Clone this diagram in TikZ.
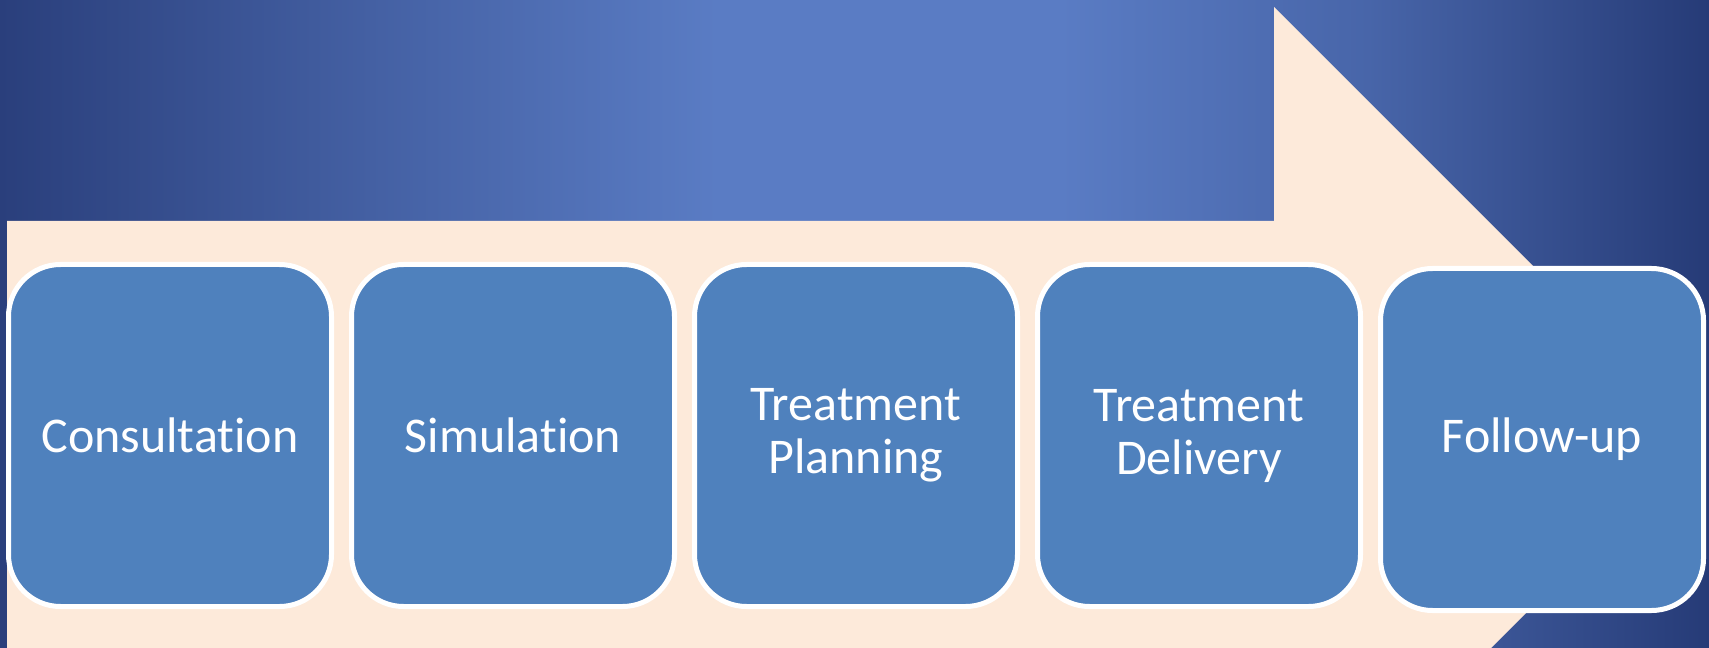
\documentclass[tikz,border=0pt]{standalone}
\usepackage{fontspec}
\setmainfont{Carlito}[Ligatures=NoCommon]
\usetikzlibrary{positioning}

\definecolor{navyleft}{HTML}{2A3F7C}
\definecolor{skyband}{HTML}{5A7CC4}
\definecolor{navyright}{HTML}{263B77}
\definecolor{peach}{HTML}{FDEADA}
\definecolor{boxblue}{HTML}{4F81BD}

% the path is fitted into the 25bp..75bp part of the shading
\pgfdeclarehorizontalshading{bgflow}{100bp}{color(0bp)=(navyleft); color(25bp)=(navyleft); color(36bp)=(navyleft!45!skyband); color(46bp)=(skyband); color(56bp)=(skyband); color(65bp)=(skyband!65!navyright); color(75bp)=(navyright); color(100bp)=(navyright)}

\tikzset{every picture/.style={line width=0.75pt}}
\tikzset{phase/.style={draw=white, line width=3.75pt, fill=boxblue, rounded corners=39pt,
    minimum width=242.25pt, minimum height=256.5pt, inner sep=0pt,
    text=white, align=center, font=\fontsize{37.5}{39.75}\selectfont}}

\begin{document}
\begin{tikzpicture}[x=0.75pt,y=0.75pt,yscale=-1,xscale=1, node distance=11.25pt]
    \useasboundingbox (0,0) rectangle (1709,648);
    \clip (0,0) rectangle (1709,648);
    
    %Shape: Background
    \shade[shading=bgflow] (0,0) rectangle (1709,648);
    
    %Shape: Arrow
    \fill[peach] (7,221) -- (1274,221) -- (1274,7) -- (1703,436) -- (1274,865) -- (1274,651) -- (7,651) -- cycle;
    
    % Text Node
    \node[phase] (consult) at (170,435.5) {Consultation};
    % Text Node
    \node[phase, right=of consult] (simul) {Simulation};
    % Text Node
    \node[phase, right=of simul] (plan) {Treatment\\Planning};
    % Text Node
    \node[phase, right=of plan] (deliver) {Treatment\\Delivery};
    % Text Node
    \node[phase, right=of deliver, yshift=-3pt] (follow) {Follow-up};
    
\end{tikzpicture}
\end{document}
